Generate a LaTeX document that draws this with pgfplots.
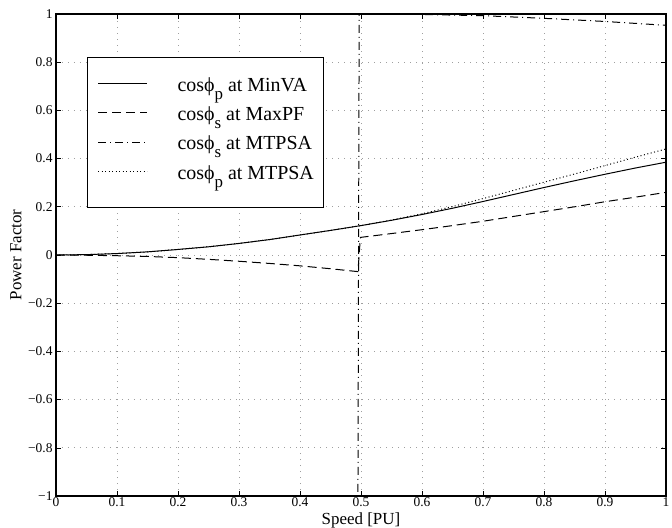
\documentclass[border=0pt]{standalone}
\usepackage{fontspec}
\setmainfont{Liberation Serif}
\usepackage{pgfplots}
\pgfplotsset{compat=1.18}
\newcommand{\sub}[1]{\raisebox{-8bp}{\fontsize{17}{17}\selectfont #1}}
\begin{document}
\begin{tikzpicture}
\begin{axis}[
  at={(0,0)}, anchor=south west,
  width=610bp, height=482bp, scale only axis,
  xmin=0, xmax=1, ymin=-1, ymax=1,
  xtick={0,0.1,0.2,0.3,0.4,0.5,0.6,0.7,0.8,0.9,1},
  xticklabels={0,0.1,0.2,0.3,0.4,0.5,0.6,0.7,0.8,0.9,1},
  ytick={-1,-0.8,-0.6,-0.4,-0.2,0,0.2,0.4,0.6,0.8,1},
  yticklabels={−1,−0.8,−0.6,−0.4,−0.2,0,0.2,0.4,0.6,0.8,1},
  tick label style={font=\fontsize{13.5}{15}\selectfont},
  xticklabel style={yshift=1.5bp},
  tick align=inside,
  major tick length=5bp,
  tick style={black, line width=0.6pt},
  axis line style={black, line width=1.1pt},
  grid=major,
  major grid style={gray!75, line width=0.7pt, dash pattern=on 1.2bp off 4.8bp},
  xlabel={Speed [PU]},
  ylabel={Power Factor},
  label style={font=\fontsize{17}{20}\selectfont},
  xlabel style={at={(axis description cs:0.5,0)}, anchor=north, yshift=-16.5bp, inner ysep=0pt},
  ylabel style={at={(axis description cs:0,0.5)}, anchor=south, yshift=31bp},
  legend style={at={(axis description cs:0.051,0.911)}, anchor=north west,
    draw=black, line width=1pt, fill=white,
    font=\fontsize{20}{24}\selectfont,
    nodes={inner xsep=0pt, inner ysep=0pt, text height=17.5bp, text depth=11.8bp},
    cells={anchor=west}, row sep=0pt, inner xsep=10bp, inner ysep=16.5bp,
    /tikz/every odd column/.append style={column sep=30bp}},
  legend image code/.code={\draw[#1] (0bp,5bp) -- (49bp,5bp);},
  clip=true,
]
\addplot[black, line width=1pt] coordinates {
(0,0) (0.05,0.0015) (0.1,0.006) (0.15,0.013) (0.2,0.023) (0.25,0.034) (0.3,0.048)
(0.35,0.064) (0.4,0.083) (0.45,0.102) (0.5,0.122) (0.55,0.144) (0.6,0.168)
(0.65,0.194) (0.7,0.222) (0.75,0.251) (0.8,0.280) (0.85,0.308) (0.9,0.335)
(0.95,0.361) (1.0,0.385)};
\addlegendentry{cosϕ\sub{p} at MinVA}
\addplot[black, line width=1pt, dash pattern=on 9bp off 5bp] coordinates {
(0,0) (0.05,-0.001) (0.1,-0.003) (0.15,-0.006) (0.2,-0.011) (0.25,-0.018)
(0.3,-0.026) (0.35,-0.035) (0.4,-0.045) (0.45,-0.057) (0.495,-0.069)
(0.499,0.073) (0.55,0.089) (0.6,0.105) (0.65,0.122) (0.7,0.14) (0.75,0.16)
(0.8,0.18) (0.85,0.20) (0.9,0.221) (0.95,0.24) (1.0,0.26)};
\addlegendentry{cosϕ\sub{s} at MaxPF}
\addplot[black, line width=1pt, dash pattern=on 8bp off 4bp on 1bp off 4bp] coordinates {
(0,-1) (0.495,-1) (0.497,1) (0.6,0.998) (0.7,0.993) (0.8,0.982) (0.9,0.969) (1.0,0.953)};
\addlegendentry{cosϕ\sub{s} at MTPSA}
\addplot[black, line width=1pt, dash pattern=on 1bp off 2.5bp] coordinates {
(0,0) (0.05,0.0015) (0.1,0.006) (0.15,0.013) (0.2,0.023) (0.25,0.034) (0.3,0.048)
(0.35,0.064) (0.4,0.083) (0.45,0.102) (0.5,0.122) (0.55,0.145) (0.6,0.171)
(0.65,0.201) (0.7,0.234) (0.75,0.268) (0.8,0.302) (0.85,0.336) (0.9,0.371)
(0.95,0.406) (1.0,0.44)};
\addlegendentry{cosϕ\sub{p} at MTPSA}
\end{axis}
\pgfresetboundingbox
\path (-56bp,-32bp) rectangle (616bp,496bp);
\end{tikzpicture}
\end{document}
